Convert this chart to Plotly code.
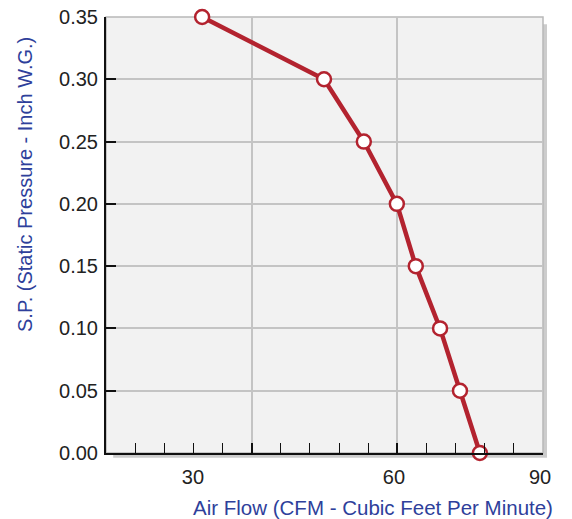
import plotly.graph_objects as go

# Data
air_flow = [19.8, 44.9, 53.1, 59.9, 63.8, 68.8, 72.9, 77.0]
static_pressure = [0.35, 0.30, 0.25, 0.20, 0.15, 0.10, 0.05, 0.00]

x_major_ticks = [0, 30, 60, 90]
x_label_pos = [17.9, 59.3, 89.4]
x_tick_labels = ["30", "60", "90"]
y_ticks = [0.00, 0.05, 0.10, 0.15, 0.20, 0.25, 0.30, 0.35]

OFF = 8  # page body margin
W, H = 572 - OFF, 519 - OFF
L, R, T, B = 106 - OFF, 29, 17 - OFF, 66
pw, ph = W - L - R, H - T - B

RED = "#b3232f"
BLUE = "#2e3f9b"
FONT = "Liberation Sans, Arial, sans-serif"

fig = go.Figure()
fig.add_trace(go.Scatter(
    x=air_flow, y=static_pressure, mode="lines+markers",
    line=dict(color=RED, width=4.5),
    marker=dict(size=14, color="white", line=dict(color=RED, width=2.5)),
    cliponaxis=False, showlegend=False, hoverinfo="x+y",
))
fig.add_trace(go.Scatter(x=[None], y=[None], xaxis="x2", showlegend=False,
                         hoverinfo="skip"))

sx = 4 / pw
sy = 4 / ph
fig.update_layout(
    width=W, height=H, autosize=False,
    margin=dict(l=L, r=R, t=T, b=B, pad=0),
    paper_bgcolor="white", plot_bgcolor="rgba(0,0,0,0)",
    font=dict(family=FONT, size=20, color="#222222"),
    shapes=[
        dict(type="rect", xref="paper", yref="paper",
             x0=sx * 1.8, x1=1 + sx, y0=-sy * 1.2, y1=1 - sy * 1.8,
             fillcolor="#cccccc", line=dict(width=0), layer="below"),
        dict(type="rect", xref="paper", yref="paper",
             x0=0, x1=1, y0=0, y1=1,
             fillcolor="#f2f2f2", line=dict(color="#b8b8b8", width=1.5),
             layer="below"),
    ],
    xaxis=dict(
        range=[0, 90], tickvals=x_major_ticks, showticklabels=False,
        ticks="inside", ticklen=10, tickwidth=2, tickcolor="#111111",
        minor=dict(dtick=6, ticks="inside", ticklen=10, tickwidth=1,
                   tickcolor="#111111", showgrid=False),
        showgrid=True, gridcolor="#c4c4c4", gridwidth=1.5,
        showline=True, linecolor="#111111", linewidth=2,
        zeroline=False, fixedrange=True, automargin=False,
    ),
    xaxis2=dict(
        range=[0, 90], overlaying="x", side="bottom",
        tickvals=x_label_pos, ticktext=x_tick_labels,
        ticks="", showgrid=False, showline=False, zeroline=False,
        ticklabelstandoff=10, fixedrange=True, automargin=False,
        ticklabeloverflow="allow",
    ),
    yaxis=dict(
        range=[0, 0.35], tickvals=y_ticks, tickformat=".2f",
        ticks="inside", ticklen=10, tickwidth=2, tickcolor="#111111",
        showgrid=True, gridcolor="#c4c4c4", gridwidth=1.5,
        showline=True, linecolor="#111111", linewidth=2,
        zeroline=False, fixedrange=True, ticklabelstandoff=2,
        automargin=False, ticklabeloverflow="allow",
    ),
    annotations=[
        dict(text="S.P. (Static Pressure - Inch W.G.)", xref="paper",
             yref="paper", x=(25 - 106) / pw, y=(453 - 185) / ph,
             textangle=-90, showarrow=False, xanchor="center",
             yanchor="middle", font=dict(color=BLUE, size=20, family=FONT)),
        dict(text="Air Flow (CFM - Cubic Feet Per Minute)", xref="paper",
             yref="paper", x=(373 - 106) / pw, y=(453 - 507) / ph,
             showarrow=False, xanchor="center", yanchor="middle",
             font=dict(color=BLUE, size=20.5, family=FONT)),
    ],
)

fig.write_html("out.html")
